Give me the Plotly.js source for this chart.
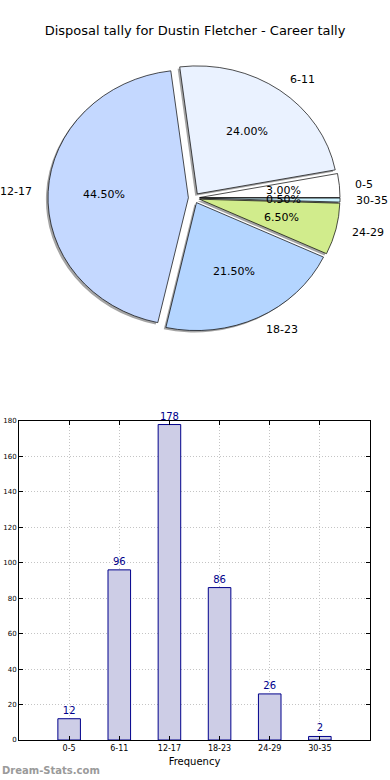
<!DOCTYPE html>
<html>
<head>
<meta charset="utf-8">
<script src="https://cdn.plot.ly/plotly-3.0.1.min.js"></script>
<style>html,body{margin:0;padding:0;background:#fff;}#chart{width:390px;height:780px;}</style>
</head>
<body>
<div id="chart"></div>
<script>
const categories = ["0-5", "6-11", "12-17", "18-23", "24-29", "30-35"];
const frequency = [12, 96, 178, 86, 26, 2];
const sliceColors = ["#ffffff", "#eaf2ff", "#c4d8ff", "#b4d5ff", "#d1ec8c", "#cdf3ff"];
const explode = [0.04, 0.04, 0.04, 0.04, 0.04, 0.04];
const titleText = "Disposal tally for Dustin Fletcher - Career tally";

const W = 390, H = 780;
const font = "DejaVu Sans, Verdana, sans-serif";
const total = frequency.reduce((a, b) => a + b, 0);
// first slice starts at 3 o'clock and runs counterclockwise
const startRotation = 90 - 360 * frequency[0] / total;
const pieDomain = {x: [0.1367, 0.8582], y: [0.5658, 0.9265]};
const shadowDx = -2 / W, shadowDy = -2 / H;
// the original pie is drawn in a non-square axes, so it is slightly elliptical
const stretchX = 1.038, stretchY = 0.946;

// label geometry (matplotlib style: labels at 1.1 r, percentages at 0.6 r)
const labelDistance = 1.1, pctDistance = 0.6;
const maxPull = Math.max.apply(null, explode);
const boxW = (pieDomain.x[1] - pieDomain.x[0]) * W;
const boxH = (pieDomain.y[1] - pieDomain.y[0]) * H;
const pieR = Math.min(boxW, boxH) / (2 + 2 * maxPull);
const cxPaper = (pieDomain.x[0] + pieDomain.x[1]) / 2;
const cyPaper = (pieDomain.y[0] + pieDomain.y[1]) / 2;

const common = {
  type: "pie", labels: categories, values: frequency, sort: false,
  direction: "counterclockwise", rotation: startRotation, pull: explode,
  hoverinfo: "skip", showlegend: false, textinfo: "none"
};

const shadow = Object.assign({}, common, {
  domain: {x: [pieDomain.x[0] + shadowDx, pieDomain.x[1] + shadowDx],
           y: [pieDomain.y[0] + shadowDy, pieDomain.y[1] + shadowDy]},
  marker: {colors: categories.map(() => "rgba(90,90,90,0.55)"), line: {width: 0}}
});

const main = Object.assign({}, common, {
  domain: pieDomain,
  marker: {colors: sliceColors, line: {color: "#000", width: 0.7}}
});

const bars = {
  type: "bar", x: categories, y: frequency, xaxis: "x", yaxis: "y",
  width: 0.45,
  marker: {color: "#cdcde6", line: {color: "#00008b", width: 1}},
  text: frequency.map(String), textposition: "outside",
  textfont: {family: font, size: 10, color: "#00008b"},
  cliponaxis: false, hoverinfo: "skip", showlegend: false
};

// pie text annotations derived from the data
const pieAnnotations = [];
let cum = 0;
frequency.forEach((v, i) => {
  const theta = 2 * Math.PI * (cum + v / 2) / total;
  cum += v;
  const c = Math.cos(theta), s = Math.sin(theta);
  const lr = (labelDistance + explode[i]) * pieR;
  const pr = (pctDistance + explode[i]) * pieR;
  pieAnnotations.push({
    text: categories[i], xref: "paper", yref: "paper",
    x: cxPaper + lr * stretchX * c / W, y: cyPaper + lr * stretchY * s / H,
    xanchor: c > 0 ? "left" : "right", yanchor: "middle", showarrow: false,
    font: {family: font, size: 11, color: "#000"}
  });
  pieAnnotations.push({
    text: (100 * v / total).toFixed(2) + "%", xref: "paper", yref: "paper",
    x: cxPaper + pr * stretchX * c / W, y: cyPaper + pr * stretchY * s / H,
    xanchor: "center", yanchor: "middle", showarrow: false,
    font: {family: font, size: 11, color: "#000"}
  });
});

const gridStyle = {showgrid: true, gridcolor: "#c4c4c4", griddash: "1px,2px", gridwidth: 1};

const layout = {
  width: W, height: H, margin: {l: 0, r: 0, t: 0, b: 0},
  paper_bgcolor: "#fff", plot_bgcolor: "#fff",
  font: {family: font, color: "#000"},
  title: {text: titleText, font: {family: font, size: 13, color: "#000"},
          x: 0.5, xanchor: "center", y: 1 - 30 / H, yanchor: "middle"},
  xaxis: Object.assign({
    domain: [19 / W, 370 / W], anchor: "y", type: "category",
    range: [-1, 6], showline: true, linecolor: "#000", linewidth: 1, mirror: "allticks",
    ticks: "inside", ticklen: 4, tickcolor: "#000",
    tickfont: {family: font, size: 8, color: "#000"},
    title: {text: "Frequency", font: {family: font, size: 10, color: "#000"}, standoff: 6},
    zeroline: false, fixedrange: true
  }, gridStyle),
  yaxis: Object.assign({
    domain: [40 / H, 359 / H], anchor: "x",
    range: [0, 180], dtick: 20, showline: true, linecolor: "#000", linewidth: 1, mirror: "allticks",
    ticks: "inside", ticklen: 4, tickcolor: "#000",
    tickfont: {family: font, size: 7, color: "#000"},
    zeroline: false, fixedrange: true
  }, gridStyle),
  annotations: pieAnnotations.concat([{
    text: "<b>Dream-Stats.com</b>", xref: "paper", yref: "paper",
    x: 0, y: 10 / H, xanchor: "left", yanchor: "middle", showarrow: false,
    font: {family: font, size: 10, color: "#9a9a9a"}
  }])
};

Plotly.newPlot("chart", [shadow, main, bars], layout, {displayModeBar: false, staticPlot: true})
  .then(function (gd) {
    const cx = cxPaper * W, cy = (1 - cyPaper) * H;
    const layer = gd.querySelector(".pielayer");
    if (layer) {
      layer.setAttribute("transform",
        "translate(" + cx + "," + cy + ") scale(" + stretchX + "," + stretchY + ") translate(" + (-cx) + "," + (-cy) + ")");
    }
  });
</script>
</body>
</html>
